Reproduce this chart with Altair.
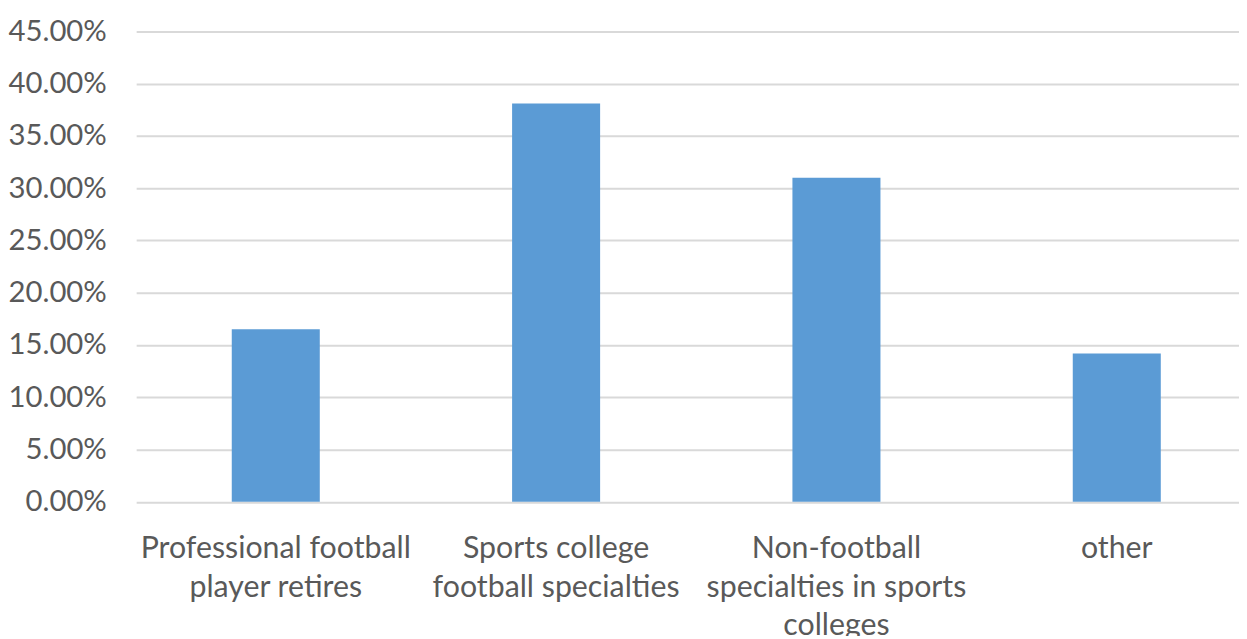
import altair as alt
import pandas as pd

categories = [
    "Professional football player retires",
    "Sports college football specialties",
    "Non-football specialties in sports colleges",
    "other",
]
label_lines = [
    ["Professional football", "player retires"],
    ["Sports college", "football specialties"],
    ["Non-football", "specialties in sports", "colleges"],
    ["other"],
]
shares = [0.165, 0.381, 0.310, 0.142]
y_ticks = [0, 0.05, 0.10, 0.15, 0.20, 0.25, 0.30, 0.35, 0.40, 0.45]

df = pd.DataFrame({"category": categories, "share": shares})

expr_parts = []
for cat, lines in zip(categories, label_lines):
    arr = "[" + ",".join("'" + l + "'" for l in lines) + "]"
    expr_parts.append(f"datum.value == '{cat}' ? {arr} : ")
label_expr = "".join(expr_parts) + "datum.label"

FONT = "Lato"
GREY = "#595959"

chart = (
    alt.Chart(df)
    .mark_bar(color="#5b9bd5")
    .encode(
        x=alt.X(
            "category:N",
            sort=categories,
            title=None,
            scale=alt.Scale(paddingInner=0.686, paddingOuter=0.31, align=0.55),
            axis=alt.Axis(
                labelAngle=0,
                labelExpr=label_expr,
                labelFont=FONT,
                labelFontSize=30.5,
                labelColor=GREY,
                labelLineHeight=39,
                labelPadding=32,
                labelBaseline="top",
                labelLimit=0,
                ticks=False,
                domain=False,
                grid=False,
            ),
        ),
        y=alt.Y(
            "share:Q",
            title=None,
            scale=alt.Scale(domain=[0, 0.45], nice=False),
            axis=alt.Axis(
                values=y_ticks,
                format=".2%",
                labelFont=FONT,
                labelFontSize=29.5,
                labelColor=GREY,
                labelPadding=30,
                ticks=False,
                domain=False,
                gridColor="#d9d9d9",
                gridWidth=2,
            ),
        ),
    )
    .properties(
        width=1110,
        height=473.5,
        autosize=alt.AutoSizeParams(type="none"),
        padding={"left": 129, "top": 21.5, "right": 0, "bottom": 133},
    )
    .configure_view(stroke=None)
)

chart.save("out.html", embed_options={"renderer": "svg", "actions": False})
